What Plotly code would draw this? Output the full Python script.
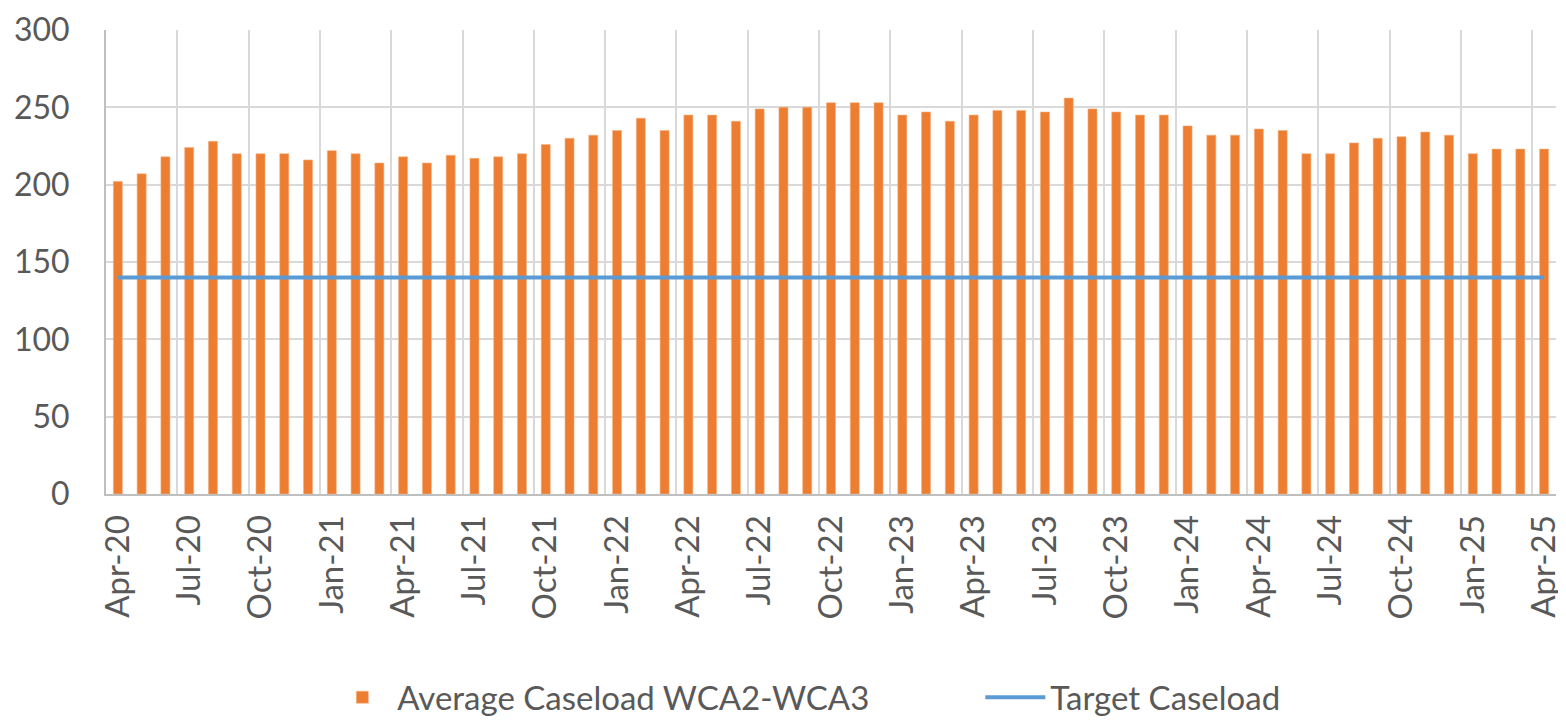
import plotly.graph_objects as go

months = [
    "Apr-20", "May-20", "Jun-20", "Jul-20", "Aug-20", "Sep-20", "Oct-20", "Nov-20", "Dec-20",
    "Jan-21", "Feb-21", "Mar-21", "Apr-21", "May-21", "Jun-21", "Jul-21", "Aug-21", "Sep-21",
    "Oct-21", "Nov-21", "Dec-21", "Jan-22", "Feb-22", "Mar-22", "Apr-22", "May-22", "Jun-22",
    "Jul-22", "Aug-22", "Sep-22", "Oct-22", "Nov-22", "Dec-22", "Jan-23", "Feb-23", "Mar-23",
    "Apr-23", "May-23", "Jun-23", "Jul-23", "Aug-23", "Sep-23", "Oct-23", "Nov-23", "Dec-23",
    "Jan-24", "Feb-24", "Mar-24", "Apr-24", "May-24", "Jun-24", "Jul-24", "Aug-24", "Sep-24",
    "Oct-24", "Nov-24", "Dec-24", "Jan-25", "Feb-25", "Mar-25", "Apr-25",
]

average_caseload = [
    202, 207, 218, 224, 228, 220, 220, 220, 216, 222, 220, 214, 218, 214, 219, 217, 218, 220,
    226, 230, 232, 235, 243, 235, 245, 245, 241, 249, 250, 250, 253, 253, 253, 245, 247, 241,
    245, 248, 248, 247, 256, 249, 247, 245, 245, 238, 232, 232, 236, 235, 220, 220, 227, 230,
    231, 234, 232, 220, 223, 223, 223,
]

target_value = 140
target_caseload = [target_value] * len(months)

tick_labels = months[::3]

font_family = "Lato, 'Open Sans', sans-serif"
text_color = "#595959"

fig = go.Figure()
fig.add_trace(go.Bar(
    x=months, y=average_caseload, name="Average Caseload WCA2-WCA3",
    marker=dict(color="#ed7d31", line=dict(color="#f4b183", width=0.6)),
))
fig.add_trace(go.Scatter(
    x=months, y=target_caseload, name="Target Caseload", mode="lines",
    line=dict(color="#5b9bd5", width=4),
))

fig.update_layout(
    width=1558, height=712,
    margin=dict(l=98, r=10, t=22, b=226, autoexpand=False),
    paper_bgcolor="white", plot_bgcolor="white",
    bargap=0.62,
    font=dict(family=font_family, color=text_color, size=33),
    showlegend=True,
    legend=dict(
        orientation="h", x=0.603, xanchor="center", yref="container", y=0.032, yanchor="middle",
        font=dict(size=33, color=text_color), itemwidth=60, entrywidth=578, traceorder="normal",
    ),
    xaxis=dict(
        type="category", tickmode="array", tickvals=tick_labels, ticktext=tick_labels,
        tickangle=-90, tickson="boundaries", showgrid=True, gridcolor="#d9d9d9", gridwidth=2,
        showline=True, linecolor="#bfbfbf", linewidth=2, ticks="", ticklen=0,
        tickfont=dict(size=33, color=text_color), range=[-0.5, 60.5],
        automargin=False, ticklabelstandoff=6, ticklabeloverflow="allow",
    ),
    yaxis=dict(
        range=[0, 300], dtick=50, showgrid=True, gridcolor="#d9d9d9", gridwidth=2,
        showline=True, linecolor="#bfbfbf", linewidth=2, ticks="", zeroline=False,
        tickfont=dict(size=32, color=text_color), ticklabelstandoff=28, automargin=False,
        ticklabeloverflow="allow",
    ),
)

fig.write_html("out.html")
